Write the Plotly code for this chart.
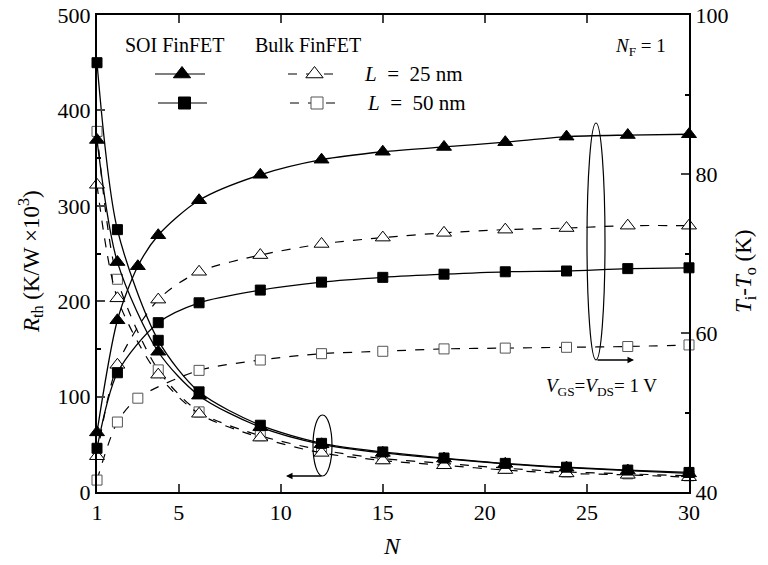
import plotly.graph_objects as go

# ---------------- data ----------------
N_rth = [1, 2, 4, 6, 9, 12, 15, 18, 21, 24, 27, 30]
rth_soi_25 = [369, 241, 147, 101, 68, 50, 41, 35, 29.5, 25.5, 22.5, 19.5]
rth_soi_50 = [450, 275, 159, 105, 70, 51, 42, 35.6, 30, 26, 23, 20.5]
rth_bulk_25 = [322, 203, 123, 82, 57, 41, 33, 28, 23, 19.5, 18, 15.5]
rth_bulk_50 = [378, 223, 128, 84, 59, 44, 35, 30, 25, 21, 19, 17]

N_t_soi_25 = [1, 2, 3, 4, 6, 9, 12, 15, 18, 21, 24, 27, 30]
t_soi_25 = [47.5, 61.6, 68.4, 72.3, 76.7, 79.9, 81.8, 82.8, 83.4, 84.0, 84.7, 84.9, 85.0]
N_t_soi_50 = [1, 2, 4, 6, 9, 12, 15, 18, 21, 24, 27, 30]
t_soi_50 = [45.5, 55.0, 61.3, 63.8, 65.4, 66.4, 67.0, 67.4, 67.7, 67.8, 68.1, 68.2]
N_t_bulk_25 = [1, 2, 4, 6, 9, 12, 15, 18, 21, 24, 27, 30]
t_bulk_25 = [44.5, 56.0, 64.2, 67.7, 69.8, 71.2, 72.0, 72.6, 73.0, 73.2, 73.5, 73.5]
N_t_bulk_50 = [1, 2, 3, 6, 9, 12, 15, 18, 21, 24, 27, 30]
t_bulk_50 = [41.5, 48.8, 51.8, 55.3, 56.6, 57.4, 57.7, 58.0, 58.1, 58.2, 58.3, 58.5]

x_ticks = [1, 5, 10, 15, 20, 25, 30]

FONT = "Liberation Serif"
LW = 1.3

# plot-area pixel box (in page pixels)
PX0, PX1, PY0, PY1 = 97, 689, 15, 492

styles = {
    "soi25": dict(symbol="triangle-up", color="black", size=13, line=dict(color="black", width=1)),
    "soi50": dict(symbol="square", color="black", size=10, line=dict(color="black", width=1)),
    "bulk25": dict(symbol="triangle-up", color="white", size=13, line=dict(color="black", width=1)),
    "bulk50": dict(symbol="square", color="white", size=10, line=dict(color="#555", width=1)),
}

fig = go.Figure()

def add(xs, ys, key, dash, yaxis):
    fig.add_trace(go.Scatter(
        x=xs, y=ys, mode="lines+markers", yaxis=yaxis,
        line=dict(color="black", width=LW if dash == "solid" else 1.2, dash=dash, shape="spline", smoothing=0.8),
        marker=styles[key], cliponaxis=False, showlegend=False, hoverinfo="skip"))

# dashed first so solid sit on top
add(N_rth, rth_bulk_50, "bulk50", "dash", "y")
add(N_rth, rth_bulk_25, "bulk25", "dash", "y")
add(N_t_bulk_50, t_bulk_50, "bulk50", "dash", "y2")
add(N_t_bulk_25, t_bulk_25, "bulk25", "dash", "y2")
add(N_rth, rth_soi_50, "soi50", "solid", "y")
add(N_rth, rth_soi_25, "soi25", "solid", "y")
add(N_t_soi_50, t_soi_50, "soi50", "solid", "y2")
add(N_t_soi_25, t_soi_25, "soi25", "solid", "y2")

# ---- legend samples on a hidden pixel-like overlay axis ----
def leg(x0, x1, y, key, dash):
    fig.add_trace(go.Scatter(x=[x0, x1], y=[y, y], xaxis="x3", yaxis="y3", mode="lines",
                             line=dict(color="black", width=1.2, dash=dash), showlegend=False, hoverinfo="skip"))
    fig.add_trace(go.Scatter(x=[(x0 + x1) / 2 + 2], y=[y], xaxis="x3", yaxis="y3", mode="markers",
                             marker=dict(styles[key], size=styles[key]["size"] + 2), showlegend=False,
                             hoverinfo="skip"))

leg(155, 205, 74, "soi25", "solid")
leg(158, 207, 103, "soi50", "solid")
leg(288, 337, 74, "bulk25", "dash")
leg(290, 340, 103, "bulk50", "dash")

def px(x):
    return (x - PX0) / (PX1 - PX0)

def py(y):
    return (PY1 - y) / (PY1 - PY0)

NB = "\u00a0"
txtfont = dict(family=FONT, size=20, color="black")
titlefont = dict(family=FONT, size=23, color="black")
ann = [
    dict(x=174, y=45, text="SOI FinFET"),
    dict(x=308, y=45, text="Bulk FinFET"),
    dict(x=362, y=74, text=f"<i>L</i>{NB}{NB}={NB}{NB}25 nm", xanchor="left", font=dict(family=FONT, size=21, color="black")),
    dict(x=365, y=103, text=f"<i>L</i>{NB}{NB}={NB}{NB}50 nm", xanchor="left", font=dict(family=FONT, size=21, color="black")),
    dict(x=668, y=47, text="<i>N</i><sub>F</sub> = 1", xanchor="right", font=dict(family=FONT, size=19, color="black")),
    dict(x=659, y=387, text="<i>V</i><sub>GS</sub>=<i>V</i><sub>DS</sub>= 1 V", xanchor="right", font=dict(family=FONT, size=19, color="black")),
    dict(x=30, y=262, text="<i>R</i><sub>th</sub> (K/W ×10<sup>3</sup>)", textangle=-90, font=titlefont),
    dict(x=745, y=272, text="<i>T</i><sub>i</sub>-<i>T</i><sub>o</sub> (K)", textangle=-90, font=titlefont),
    dict(x=392, y=546, text="<i>N</i>", font=dict(family=FONT, size=24, color="black")),
]
annotations = []
for a in ann:
    d = dict(xref="paper", yref="paper", showarrow=False, font=txtfont, xanchor="center", yanchor="middle")
    d.update(a)
    d["x"] = px(a["x"])
    d["y"] = py(a["y"])
    annotations.append(d)

# arrows
annotations.append(dict(xref="x3", yref="y3", axref="x3", ayref="y3", x=634, y=360, ax=596, ay=360,
                        text="", showarrow=True, arrowhead=2, arrowsize=1, arrowwidth=1.3, arrowcolor="black"))
annotations.append(dict(xref="x3", yref="y3", axref="x3", ayref="y3", x=286, y=476, ax=323, ay=476,
                        text="", showarrow=True, arrowhead=2, arrowsize=1, arrowwidth=1.3, arrowcolor="black"))

shapes = [
    dict(type="circle", xref="x3", yref="y3", x0=587, x1=605, y0=123, y1=360, line=dict(color="black", width=1.2)),
    dict(type="circle", xref="x3", yref="y3", x0=313, x1=332, y0=415, y1=476, line=dict(color="black", width=1.2)),
]

tickfont = dict(family=FONT, size=22, color="black")
fig.update_layout(
    width=768, height=565,
    margin=dict(l=PX0, r=768 - PX1, t=PY0, b=565 - PY1),
    paper_bgcolor="white", plot_bgcolor="white",
    font=dict(family=FONT, color="black"),
    hovermode=False,
    xaxis=dict(range=[1, 30], tickvals=x_ticks, ticks="inside", ticklen=8, tickwidth=1.5,
               showline=True, linewidth=2, linecolor="black", mirror="ticks", showgrid=False,
               zeroline=False, tickfont=tickfont, automargin=False, ticklabeloverflow="allow"),
    yaxis=dict(range=[0, 500], tickvals=[0, 100, 200, 300, 400, 500], ticks="inside", ticklen=8, tickwidth=1.5,
               minor=dict(tickvals=[50, 150, 250, 350, 450], ticks="inside", ticklen=4, tickwidth=1.5, tickcolor="black"),
               showline=True, linewidth=2, linecolor="black", showgrid=False, zeroline=False,
               tickfont=tickfont, automargin=False, ticklabeloverflow="allow"),
    yaxis2=dict(range=[40, 100], tickvals=[40, 60, 80, 100], overlaying="y", side="right", ticks="inside",
                ticklen=8, tickwidth=1.5,
                minor=dict(tickvals=[50, 70, 90], ticks="inside", ticklen=4, tickwidth=1.5, tickcolor="black"),
                showline=True, linewidth=2, linecolor="black", showgrid=False, zeroline=False,
                tickfont=tickfont, automargin=False, ticklabeloverflow="allow"),
    xaxis3=dict(overlaying="x", range=[PX0, PX1], visible=False),
    yaxis3=dict(overlaying="y", range=[PY1, PY0], visible=False),
    annotations=annotations,
    shapes=shapes,
)

fig.write_html("out.html", config={"displayModeBar": False},
               post_script="document.body.style.margin='0';document.body.style.overflow='hidden';")
